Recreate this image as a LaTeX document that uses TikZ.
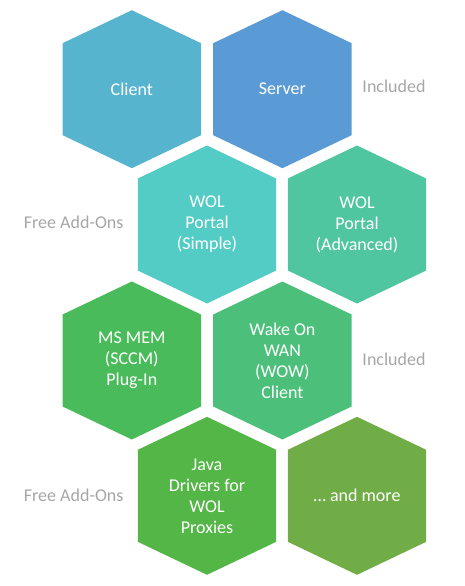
\documentclass[tikz,border=0pt]{standalone}
\usepackage{fontspec}
\setmainfont{Carlito}
\definecolor{cClient}{RGB}{87,180,207}
\definecolor{cServer}{RGB}{91,155,213}
\definecolor{cSimple}{RGB}{82,204,196}
\definecolor{cAdv}{RGB}{80,198,160}
\definecolor{cMem}{RGB}{74,187,90}
\definecolor{cWow}{RGB}{76,192,122}
\definecolor{cJava}{RGB}{84,182,70}
\definecolor{cMore}{RGB}{112,173,71}
\definecolor{cLabel}{RGB}{166,166,166}
\tikzset{
  hextext/.style={text=white, align=center, font=\fontsize{18}{21}\selectfont, inner sep=0pt},
  sidelabel/.style={text=cLabel, font=\fontsize{18}{21}\selectfont, inner sep=0pt},
}
\newcommand{\myhex}[5]{%
  \fill[#4] (#2,#3) ++(0,-79) -- ++(69.2,33) -- ++(0,92) -- ++(-69.2,33) -- ++(-69.2,-33) -- ++(0,-92) -- cycle;
  \node[hextext] (#1) at (#2,#3) {#5};
}
\begin{document}
\begin{tikzpicture}[x=1pt,y=-1pt]
\useasboundingbox (0,0) rectangle (465,586);
\myhex{client}{131.8}{89.2}{cClient}{Client}
\myhex{server}{282.4}{89.2}{cServer}{Server}
\myhex{simple}{207}{224.5}{cSimple}{WOL\\Portal\\(Simple)}
\myhex{adv}{357}{224.5}{cAdv}{WOL\\Portal\\(Advanced)}
\myhex{mem}{131.8}{360.5}{cMem}{MS MEM\\(SCCM)\\Plug-In}
\myhex{wow}{282.4}{360.5}{cWow}{Wake On\\WAN\\(WOW)\\Client}
\myhex{java}{207}{495.8}{cJava}{Java\\Drivers for\\WOL\\Proxies}
\myhex{more}{357}{495.8}{cMore}{\dots\ and more}
\node[sidelabel] (inc1) at (394,86.7) {Included};
\node[sidelabel] (free1) at (73.7,222.7) {Free Add-Ons};
\node[sidelabel] (inc2) at (394,359) {Included};
\node[sidelabel] (free2) at (73.7,495) {Free Add-Ons};
\end{tikzpicture}
\end{document}
